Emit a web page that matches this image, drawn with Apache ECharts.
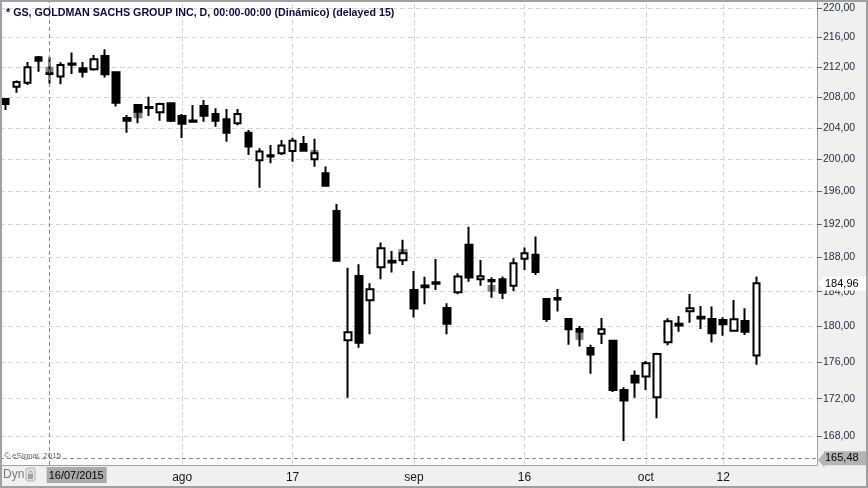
<!DOCTYPE html>
<html>
<head>
<meta charset="utf-8">
<script src="https://cdn.jsdelivr.net/npm/echarts@6/dist/echarts.min.js"></script>
<style>
  html, body { margin: 0; padding: 0; background: #fff; }
  #chart { width: 868px; height: 488px; }
</style>
</head>
<body>
<div id="chart"></div>
<script>
// trading days shown (last 5 are empty slots on the right)
const dates = [
  '2015-07-10','2015-07-13','2015-07-14','2015-07-15','2015-07-16','2015-07-17',
  '2015-07-20','2015-07-21','2015-07-22','2015-07-23','2015-07-24',
  '2015-07-27','2015-07-28','2015-07-29','2015-07-30','2015-07-31',
  '2015-08-03','2015-08-04','2015-08-05','2015-08-06','2015-08-07',
  '2015-08-10','2015-08-11','2015-08-12','2015-08-13','2015-08-14',
  '2015-08-17','2015-08-18','2015-08-19','2015-08-20','2015-08-21',
  '2015-08-24','2015-08-25','2015-08-26','2015-08-27','2015-08-28',
  '2015-08-31','2015-09-01','2015-09-02','2015-09-03','2015-09-04',
  '2015-09-08','2015-09-09','2015-09-10','2015-09-11',
  '2015-09-14','2015-09-15','2015-09-16','2015-09-17','2015-09-18',
  '2015-09-21','2015-09-22','2015-09-23','2015-09-24','2015-09-25',
  '2015-09-28','2015-09-29','2015-09-30','2015-10-01','2015-10-02',
  '2015-10-05','2015-10-06','2015-10-07','2015-10-08','2015-10-09',
  '2015-10-12','2015-10-13','2015-10-14','2015-10-15',
  '2015-10-16','2015-10-19','2015-10-20','2015-10-21','2015-10-22'
];

const opens = [
  207.75, 209.36, 209.89, 213.28, 211.15, 210.69, 212.45, 211.80, 211.67, 213.45, 211.27,
  205.27, 206.96, 206.68, 206.01, 207.18, 205.53, 204.95, 206.83, 205.79, 205.10,
  204.58, 203.38, 199.88, 200.35, 200.76, 201.05, 201.94, 200.00, 198.25, 193.60,
  178.45, 185.83, 183.00, 186.85, 187.60, 187.66, 184.19, 184.70, 184.92, 182.12,
  183.92, 189.50, 185.45, 185.36, 185.44, 184.67, 187.86, 188.33, 183.15,
  183.26, 180.86, 179.72, 177.59, 179.19, 178.38, 172.95, 174.49, 174.41, 172.15,
  178.23, 180.32, 181.75, 181.10, 180.86, 180.74, 179.53, 180.63, 176.73
];
const closes = [
  207.10, 209.99, 211.93, 212.82, 211.05, 212.24, 212.27, 211.35, 213.01, 211.00, 207.25,
  204.92, 206.09, 206.55, 207.09, 204.92, 204.53, 204.80, 205.57, 204.92, 203.38,
  205.79, 201.60, 200.98, 200.50, 201.73, 202.36, 201.09, 200.76, 196.70, 187.62,
  179.35, 178.18, 184.27, 189.10, 187.40, 188.50, 182.04, 184.50, 185.08, 180.32,
  185.75, 185.63, 185.80, 185.20, 183.87, 187.32, 188.50, 186.30, 180.86,
  183.08, 179.69, 179.42, 176.84, 179.69, 172.95, 171.79, 173.76, 175.88, 176.92,
  180.60, 180.12, 182.09, 180.90, 179.24, 180.26, 180.82, 179.42, 184.96
];
const lows = [
  206.30, 208.57, 209.59, 211.35, 209.72, 209.68, 211.05, 210.56, 211.48, 210.56, 206.75,
  203.36, 204.58, 205.53, 204.92, 204.75, 202.71, 204.66, 204.79, 204.14, 202.23,
  204.32, 200.55, 196.45, 199.50, 200.55, 199.70, 201.00, 199.07, 196.60, 187.50,
  172.10, 177.62, 179.13, 185.43, 186.22, 187.10, 181.01, 182.54, 184.19, 179.13,
  183.70, 185.16, 184.67, 183.30, 183.15, 184.07, 186.53, 185.95, 180.52,
  181.70, 177.93, 177.74, 174.71, 178.04, 172.73, 167.47, 172.11, 172.95, 169.90,
  177.90, 179.42, 180.43, 179.72, 178.19, 178.96, 179.42, 179.04, 175.72
];
const highs = [
  207.83, 210.16, 212.65, 213.45, 213.33, 212.60, 213.90, 212.65, 213.59, 214.36, 211.30,
  205.66, 207.09, 208.04, 207.26, 207.31, 205.79, 206.96, 207.61, 206.53, 206.44,
  206.44, 203.72, 201.40, 201.82, 202.45, 202.74, 202.96, 202.60, 199.08, 194.45,
  186.80, 187.20, 184.97, 189.77, 188.78, 190.10, 186.42, 185.74, 187.82, 182.66,
  186.15, 191.69, 187.71, 185.67, 185.75, 187.90, 189.20, 190.49, 183.27,
  184.30, 180.97, 180.06, 177.93, 180.97, 178.40, 173.25, 175.07, 176.13, 177.06,
  180.94, 181.20, 183.73, 182.35, 182.27, 181.05, 183.04, 182.09, 185.75
];

// grey boxes drawn behind some bars
const grayDates  = ['2015-07-16','2015-07-28','2015-08-19','2015-08-31','2015-09-11','2015-09-23','2015-10-05'];
const grayTop    = [212.01, 206.09, 201.18, 189.00, 184.77, 179.31, 179.72];
const grayBottom = [211.14, 205.23, 200.48, 188.42, 183.99, 178.49, 178.96];

const yTicks = [168, 172, 176, 180, 184, 188, 192, 196, 200, 204, 208, 212, 216, 220];
const xLabels = {
  '2015-08-03': 'ago', '2015-08-17': '17', '2015-09-01': 'sep',
  '2015-09-16': '16', '2015-10-01': 'oct', '2015-10-12': '12'
};

const crossDate = '2015-07-16';
const crossDateText = '16/07/2015';
const crossPrice = 165.48;
const lastPrice = 184.96;
const priceMin = 164.96;
const priceMax = 221.11;

const FONT = '"Liberation Sans", Arial, sans-serif';
const ln = Math.log;
const fmt = (v) => v.toFixed(2).replace('.', ',');

const candleData = opens.map((o, i) => [ln(o), ln(closes[i]), ln(lows[i]), ln(highs[i])]);
const grayData = dates.map((d) => {
  const k = grayDates.indexOf(d);
  if (k < 0) return '-';
  return [ln(grayBottom[k]), ln(grayTop[k]), ln(grayBottom[k]), ln(grayTop[k])];
});

const gridDash = { color: '#d6d6d6', type: [5, 3], width: 1 };
const crossDash = { color: '#8a8a8a', type: [4, 3], width: 1 };

// price tag on the right axis: text box with a left pointing tip
const priceTag = (bg) => ({
  show: true, position: 'end', distance: 7,
  backgroundColor: bg, color: '#000', padding: [2, 12, 1, 1],
  fontSize: 11, fontFamily: FONT
});

const chart = echarts.init(document.getElementById('chart'));

chart.setOption({
  animation: false,
  title: {
    text: '* GS, GOLDMAN SACHS GROUP INC, D, 00:00-00:00 (Dinámico) (delayed 15)',
    left: 6, top: 8, padding: 0,
    textStyle: { fontSize: 10.7, fontWeight: 'bold', color: '#0c0c3c', fontFamily: FONT }
  },
  grid: { left: -2.2, right: 51, top: 0, bottom: 23, containLabel: false },
  xAxis: {
    type: 'category',
    data: dates,
    boundaryGap: true,
    axisLine: { lineStyle: { color: '#a0a0a0', width: 1 } },
    axisTick: { show: false },
    splitLine: { show: false },
    axisLabel: {
      interval: (i, v) => v in xLabels,
      formatter: (v) => xLabels[v] || '',
      margin: 7, fontSize: 12, color: '#151515', fontFamily: FONT
    }
  },
  yAxis: {
    type: 'value',
    position: 'right',
    min: ln(priceMin),
    max: ln(priceMax),
    axisLine: { show: true, lineStyle: { color: '#a0a0a0', width: 1 } },
    axisTick: { show: true, length: 5, customValues: yTicks.map(ln), lineStyle: { color: '#666' } },
    axisLabel: {
      customValues: yTicks.map(ln),
      formatter: (v) => fmt(Math.exp(v)),
      margin: 6, fontSize: 10.5, color: '#1f2a3c', fontFamily: FONT
    },
    splitLine: { show: true, lineStyle: gridDash }
  },
  series: [
    {
      type: 'candlestick',
      data: grayData,
      barWidth: 9,
      itemStyle: { color: '#858585', color0: '#858585', borderColor: '#858585', borderColor0: '#858585', borderWidth: 0 },
      markLine: {
        silent: true, symbol: ['none', 'none'], z: 1,
        label: { show: false },
        lineStyle: gridDash,
        data: Object.keys(xLabels).map((d) => ({ xAxis: d }))
      }
    },
    {
      type: 'candlestick',
      data: candleData,
      barWidth: 7,
      itemStyle: {
        color: '#ffffff', color0: '#000000',
        borderColor: '#000000', borderColor0: '#000000', borderWidth: 2
      },
      markLine: {
        silent: true, symbol: ['none', 'none'], z: 5,
        data: [
          {
            xAxis: crossDate,
            lineStyle: crossDash,
            label: {
              show: true, position: 'start', formatter: crossDateText, distance: 2,
              align: 'left', offset: [-3, 0],
              backgroundColor: '#aaaaaa', color: '#000', padding: [3, 3, 2, 2],
              fontSize: 11, fontFamily: FONT
            }
          },
          {
            yAxis: ln(crossPrice),
            lineStyle: crossDash,
            label: Object.assign(priceTag('#b4b4b4'), { formatter: fmt(crossPrice) })
          },
          {
            yAxis: ln(lastPrice),
            lineStyle: { color: 'transparent', width: 0 },
            label: Object.assign(priceTag('#ffffff'), { formatter: fmt(lastPrice) })
          }
        ]
      }
    }
  ],
  graphic: {
    elements: [
      { id: 'panelRight', type: 'rect', z: -10, shape: { x: 817, y: 0, width: 51, height: 488 }, style: { fill: '#f0f0f0' } },
      { id: 'panelBottom', type: 'rect', z: -10, shape: { x: 0, y: 465.5, width: 868, height: 23 }, style: { fill: '#f0f0f0' } },
      { id: 'copy', type: 'text', z: 10, left: 4, top: 452, style: { text: '© eSignal, 2015', fill: '#666', font: '8px ' + FONT } },
      { id: 'dyn', type: 'text', z: 10, left: 3, top: 469, style: { text: 'Dyn', fill: '#7a7a7a', font: '12px ' + FONT } },
      { id: 'lockBox', type: 'rect', z: 10, shape: { x: 26, y: 468, width: 9, height: 13, r: 2 }, style: { fill: '#e4e4e4', stroke: '#b0b0b0', lineWidth: 1 } },
      { id: 'lockBody', type: 'rect', z: 11, shape: { x: 28, y: 474, width: 5, height: 5 }, style: { fill: '#a0a0a0' } },
      { id: 'lockRing', type: 'rect', z: 11, shape: { x: 29, y: 471, width: 3, height: 4, r: 1.5 }, style: { fill: 'none', stroke: '#a0a0a0', lineWidth: 1 } },
      { id: 'frame', type: 'rect', z: 20, shape: { x: 1, y: 1, width: 866, height: 486 }, style: { fill: 'none', stroke: '#a0a0a0', lineWidth: 2 } }
    ]
  }
});

// tips of the two price tags, placed from the y scale
const tipX = chart.convertToPixel({ xAxisIndex: 0 }, dates[dates.length - 1]) + 5.5;
const tips = [[crossPrice, '#b4b4b4'], [lastPrice, '#ffffff']].map(([p, c], i) => {
  const y = chart.convertToPixel({ yAxisIndex: 0 }, ln(p));
  return {
    id: 'tip' + i, type: 'polygon', z: 30,
    shape: { points: [[tipX + 1, y], [tipX + 7.5, y - 7.5], [tipX + 7.5, y + 7.5]] },
    style: { fill: c }
  };
});
chart.setOption({ graphic: { elements: tips } });
</script>
</body>
</html>
